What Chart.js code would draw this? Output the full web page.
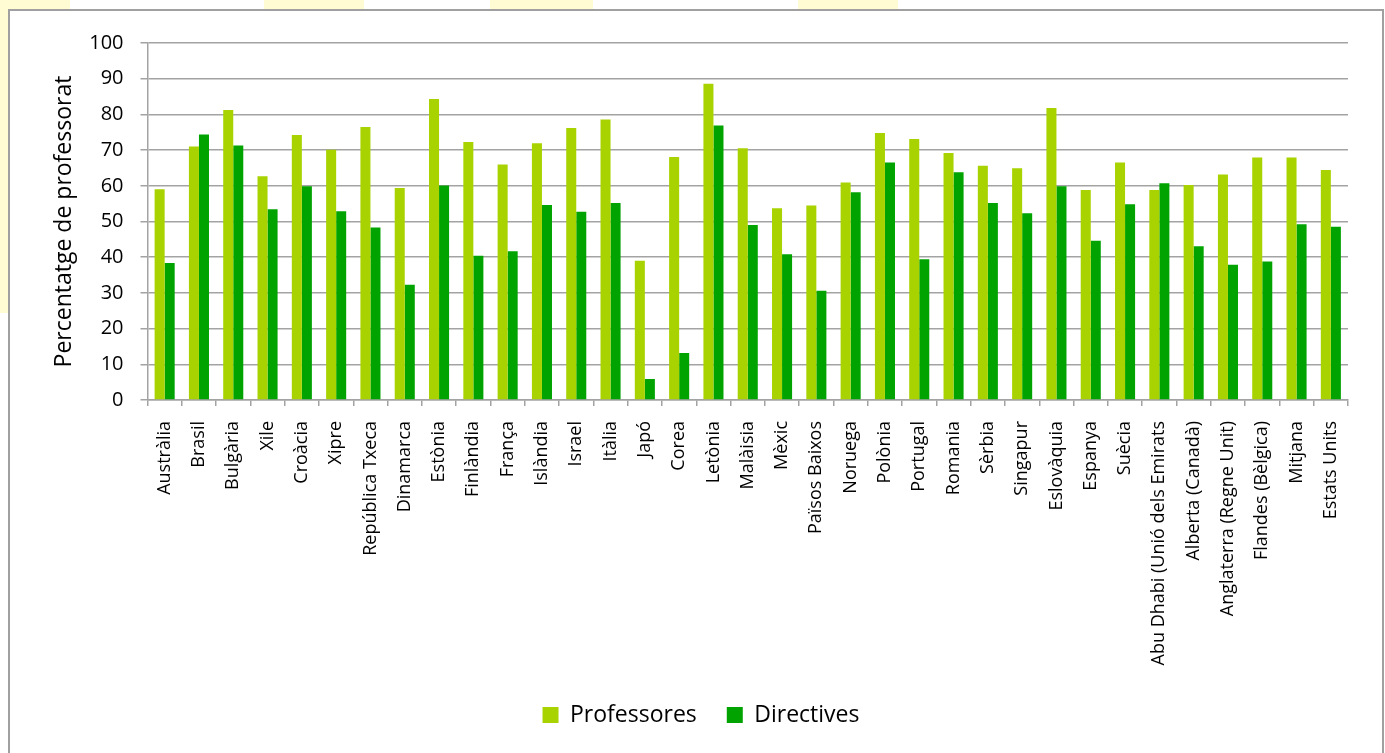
<!DOCTYPE html>
<html>
<head>
<meta charset="utf-8">
<script src="https://cdn.jsdelivr.net/npm/chart.js@4"></script>
<style>
  body { margin: 0; background: #fff; width: 1385px; height: 753px; overflow: hidden; position: relative; }
  .deco { position: absolute; background: #fffcd4; }
  #frame { position: absolute; left: 8px; top: 9px; width: 1372px; height: 770px; border: 2px solid #a0a0a0; background: #fff; }
  #chart { display: block; }
</style>
</head>
<body>
<!-- pale yellow bits peeking out behind the frame -->
<div class="deco" style="left:0;top:0;width:70px;height:10px"></div>
<div class="deco" style="left:264px;top:0;width:100px;height:10px"></div>
<div class="deco" style="left:490px;top:0;width:103px;height:10px"></div>
<div class="deco" style="left:798px;top:0;width:100px;height:10px"></div>
<div class="deco" style="left:0;top:0;width:8px;height:313px"></div>
<div id="frame"><canvas id="chart" width="1372" height="762"></canvas></div>
<script>
// Countries / regions along the x axis
const countries = [
  'Austràlia', 'Brasil', 'Bulgària', 'Xile', 'Croàcia', 'Xipre', 'República Txeca',
  'Dinamarca', 'Estònia', 'Finlàndia', 'França', 'Islàndia', 'Israel', 'Itàlia',
  'Japó', 'Corea', 'Letònia', 'Malàisia', 'Mèxic', 'Països Baixos', 'Noruega',
  'Polònia', 'Portugal', 'Romania', 'Sèrbia', 'Singapur', 'Eslovàquia', 'Espanya',
  'Suècia', 'Abu Dhabi (Unió dels Emirats', 'Alberta (Canadà)', 'Anglaterra (Regne Unit)',
  'Flandes (Bèlgica)', 'Mitjana', 'Estats Units'
];

// Percentage of women among teachers
const professores = [
  59.0, 71.0, 81.2, 62.7, 74.2, 70.1, 76.5, 59.4, 84.3, 72.3, 66.0, 71.9, 76.2, 78.6,
  39.0, 68.1, 88.6, 70.5, 53.7, 54.5, 60.9, 74.8, 73.1, 69.2, 65.6, 64.9, 81.8, 58.8,
  66.5, 58.8, 60.2, 63.2, 67.9, 67.9, 64.4
];

// Percentage of women among school principals
const directives = [
  38.4, 74.4, 71.3, 53.4, 59.9, 52.9, 48.3, 32.3, 60.1, 40.4, 41.7, 54.6, 52.7, 55.2,
  5.9, 13.2, 76.9, 49.0, 40.8, 30.6, 58.2, 66.5, 39.4, 63.8, 55.2, 52.3, 59.9, 44.6,
  54.8, 60.7, 43.1, 37.9, 38.8, 49.2, 48.5
];

const yTicks = [0, 10, 20, 30, 40, 50, 60, 70, 80, 90, 100];

const FONT = '"Open Sans", "DejaVu Sans", sans-serif';
const gridGrey = '#a3a3a3';

// nudge the legend a bit right, the original is not centred on the canvas
const legendNudge = {
  id: 'legendNudge',
  afterLayout(chart) {
    if (chart.legend) {
      chart.legend.left += 22;
      chart.legend.right += 22;
    }
  }
};

const ctx = document.getElementById('chart').getContext('2d');

new Chart(ctx, {
  type: 'bar',
  data: {
    labels: countries,
    datasets: [
      {
        label: 'Professores',
        data: professores,
        backgroundColor: '#a8d300',
        categoryPercentage: 0.585,
        barPercentage: 1.0
      },
      {
        label: 'Directives',
        data: directives,
        backgroundColor: '#00a300',
        categoryPercentage: 0.585,
        barPercentage: 1.0
      }
    ]
  },
  plugins: [legendNudge],
  options: {
    responsive: false,
    animation: false,
    layout: {
      padding: { left: 0, top: 32, right: 34, bottom: 36.5 }
    },
    plugins: {
      tooltip: { enabled: false },
      legend: {
        position: 'bottom',
        labels: {
          color: '#000',
          boxWidth: 16,
          boxHeight: 16,
          padding: 30,
          font: { family: FONT, size: 23 }
        }
      }
    },
    scales: {
      x: {
        afterFit: (scale) => { scale.height = 273.5; },
        grid: {
          drawOnChartArea: false,
          drawTicks: true,
          tickLength: 6,
          color: gridGrey,
          lineWidth: 1.5
        },
        border: { color: gridGrey, width: 1.5 },
        ticks: {
          color: '#000',
          autoSkip: false,
          maxRotation: 90,
          minRotation: 90,
          padding: 15,
          font: { family: FONT, size: 18 }
        }
      },
      y: {
        min: 0,
        max: 100,
        afterFit: (scale) => { scale.width = 137.5; },
        afterBuildTicks: (scale) => { scale.ticks = yTicks.map(v => ({ value: v })); },
        grid: {
          color: gridGrey,
          lineWidth: 1.5,
          tickLength: 7
        },
        border: { color: gridGrey, width: 1.5 },
        ticks: {
          color: '#000',
          padding: 17,
          font: { family: FONT, size: 20 }
        },
        title: {
          display: true,
          text: 'Percentatge de professorat',
          color: '#000',
          padding: { top: 41, bottom: 0 },
          font: { family: FONT, size: 23 }
        }
      }
    }
  }
});
</script>
</body>
</html>
